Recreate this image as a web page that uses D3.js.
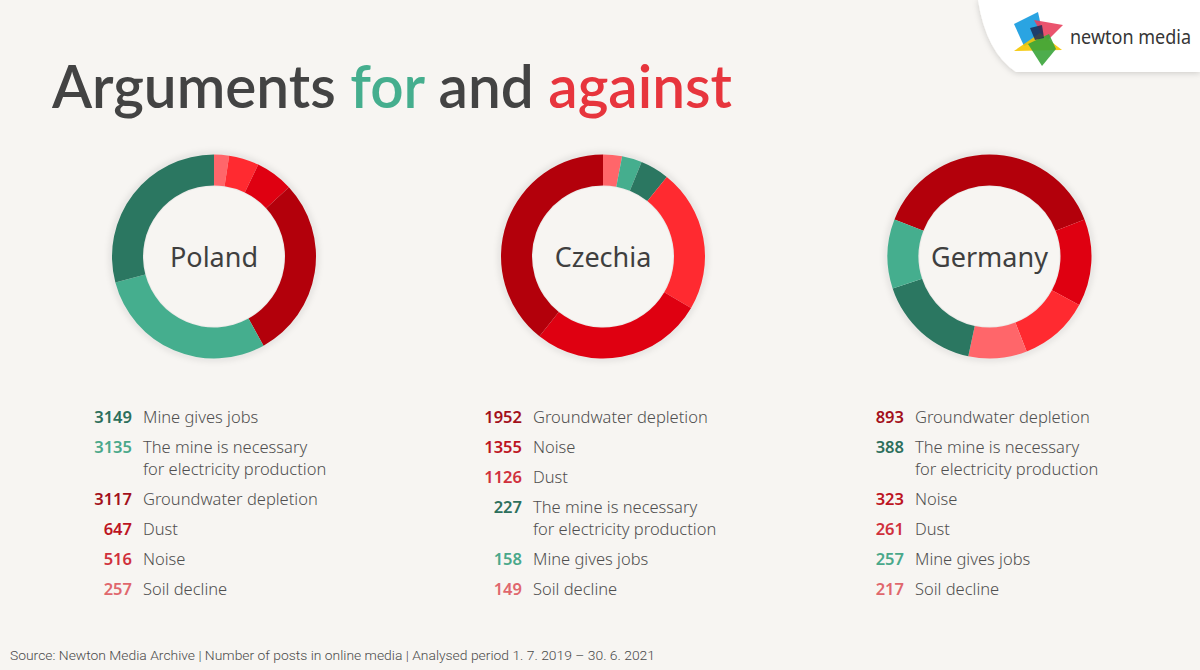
<!DOCTYPE html>
<html><head><meta charset="utf-8">
<script src="https://cdn.jsdelivr.net/npm/d3@7"></script>
<style>
html,body{margin:0;padding:0;background:#f7f5f2;}
svg{display:block;}
</style></head>
<body>
<svg id="chart" width="1200" height="670"></svg>
<script>
// ---------- DATA ----------
const countries = ["Poland", "Czechia", "Germany"];
const argumentSides = { // for / against
  "Mine gives jobs": "for",
  "The mine is necessary\nfor electricity production": "for",
  "Groundwater depletion": "against",
  "Dust": "against",
  "Noise": "against",
  "Soil decline": "against"
};
// slice order (clockwise)
const polandArgs = ["Soil decline", "Noise", "Dust", "Groundwater depletion", "The mine is necessary\nfor electricity production", "Mine gives jobs"];
const polandValues = [257, 516, 647, 3117, 3135, 3149];
const czechiaArgs = ["Soil decline", "Mine gives jobs", "The mine is necessary\nfor electricity production", "Dust", "Noise", "Groundwater depletion"];
const czechiaValues = [149, 158, 227, 1126, 1355, 1952];
const germanyArgs = ["Groundwater depletion", "Noise", "Dust", "Soil decline", "The mine is necessary\nfor electricity production", "Mine gives jobs"];
const germanyValues = [893, 323, 261, 217, 388, 257];
const centerFirstSlice = [false, false, true];

const againstColors = ["#b3000b", "#df0011", "#ff2a30", "#ff666a"]; // by rank
const forColors = ["#2b7761", "#45ae8e"];
const againstText = ["#a3101b", "#bd1422", "#d0303c", "#e0676d"];
const forText = ["#2d6f5c", "#4aa88a"];

const titleParts = [["Arguments ", "#434343"], ["for ", "#45ae8e"], ["and ", "#434343"], ["against", "#e7353d"]];
const sourceText = "Source: Newton Media Archive | Number of posts in online media | Analysed period 1. 7. 2019 – 30. 6. 2021";

// ---------- LAYOUT ----------
const W = 1200, H = 670;
const svg = d3.select("#chart");
const centersX = [214, 603, 989.5];
const centerY = 256.5;
const outerR = 102, innerR = 71;
const legendNumRight = [132, 522, 904];
const legendTop = 417, rowStep = 30, lineStep = 21.5;

svg.append("rect").attr("width", W).attr("height", H).attr("fill", "#f7f5f2");

const defs = svg.append("defs");
const f = defs.append("filter").attr("id", "shadow").attr("x", "-20%").attr("y", "-20%").attr("width", "140%").attr("height", "140%");
f.append("feDropShadow").attr("dx", 0).attr("dy", 1).attr("stdDeviation", 3).attr("flood-color", "#000").attr("flood-opacity", 0.18);
const fi = defs.append("filter").attr("id", "ishadow").attr("x", "-20%").attr("y", "-20%").attr("width", "140%").attr("height", "140%");
fi.append("feGaussianBlur").attr("stdDeviation", 3);

// logo panel
const logo = svg.append("g");
logo.append("path").attr("d", "M978,0 Q986,52 1016,72 L1200,72 L1200,0 Z").attr("fill", "#ffffff")
  .attr("filter", "url(#shadow)").attr("opacity", 1);
const ic = logo.append("g");
ic.append("polygon").attr("points", "1014,24 1038,12 1044,40 1024,46").attr("fill", "#1f9fe0").attr("opacity", 0.95);
ic.append("polygon").attr("points", "1034,20 1063,25 1046,42").attr("fill", "#e8415e").attr("opacity", 0.9);
ic.append("polygon").attr("points", "1014,51 1040,33 1062,50").attr("fill", "#f4c600").attr("opacity", 0.9);
ic.append("polygon").attr("points", "1028,44 1049,34 1056,49 1042,66").attr("fill", "#3aa43a").attr("opacity", 0.9);
ic.append("polygon").attr("points", "1030,28 1042,25 1044,38 1035,40").attr("fill", "#1c2b55").attr("opacity", 0.85);
logo.append("text").attr("x", 1070).attr("y", 44).attr("font-family", "Noto Sans, sans-serif")
  .attr("font-size", 19.5).attr("fill", "#363636").attr("textLength", 121).attr("lengthAdjust", "spacingAndGlyphs")
  .text("newton media");

// title
const title = svg.append("text").attr("x", 52).attr("y", 108)
  .attr("font-family", "Lato, sans-serif").attr("font-weight", 600).attr("font-size", 60)
  .attr("textLength", 680).attr("lengthAdjust", "spacingAndGlyphs");
titleParts.forEach(([t, c]) => title.append("tspan").attr("fill", c).text(t));

// charts
const allArgs = [polandArgs, czechiaArgs, germanyArgs];
const allValues = [polandValues, czechiaValues, germanyValues];

countries.forEach((country, ci) => {
  const args = allArgs[ci], vals = allValues[ci];
  const rows = args.map((a, i) => ({ arg: a, value: vals[i], side: argumentSides[a] }));
  // rank colors within side
  ["for", "against"].forEach(side => {
    const sorted = rows.filter(r => r.side === side).sort((a, b) => b.value - a.value);
    sorted.forEach((r, k) => {
      r.color = side === "for" ? forColors[k] : againstColors[k];
      r.textColor = side === "for" ? forText[k] : againstText[k];
    });
  });
  const total = d3.sum(vals);
  const offset = centerFirstSlice[ci] ? -Math.PI * vals[0] / total : 0;
  const pie = d3.pie().value(d => d.value).sort(null)
    .startAngle(offset).endAngle(offset + 2 * Math.PI);
  const arc = d3.arc().innerRadius(innerR).outerRadius(outerR);

  const g = svg.append("g").attr("transform", `translate(${centersX[ci]},${centerY})`);
  // shadow ring
  g.append("circle").attr("r", outerR).attr("fill", "none").attr("stroke", "#000")
    .attr("stroke-opacity", 0.12).attr("stroke-width", 4).attr("filter", "url(#ishadow)");
  g.append("circle").attr("r", innerR).attr("fill", "none").attr("stroke", "#000")
    .attr("stroke-opacity", 0.10).attr("stroke-width", 4).attr("filter", "url(#ishadow)");
  g.append("circle").attr("r", innerR - 1).attr("fill", "#f7f5f2");
  g.selectAll("path.slice").data(pie(rows)).join("path").attr("class", "slice")
    .attr("d", arc).attr("fill", d => d.data.color);
  g.append("text").attr("text-anchor", "middle").attr("y", 10)
    .attr("font-family", "Noto Sans, sans-serif").attr("font-weight", 400).attr("font-size", 27).attr("fill", "#3f3f3f")
    .text(country);

  // legend
  const legend = rows.slice().sort((a, b) => b.value - a.value);
  let y = legendTop;
  const lg = svg.append("g");
  legend.forEach(r => {
    lg.append("text").attr("x", legendNumRight[ci]).attr("y", y + 6).attr("text-anchor", "end")
      .attr("font-family", "Noto Sans, sans-serif").attr("font-weight", 600).attr("font-size", 16.5)
      .attr("fill", r.textColor).text(r.value);
    const lines = r.arg.split("\n");
    lines.forEach((ln, li) => {
      lg.append("text").attr("x", legendNumRight[ci] + 11).attr("y", y + 6 + li * lineStep)
        .attr("font-family", "Noto Sans, sans-serif").attr("font-weight", 300).attr("font-size", 16.5)
        .attr("fill", "#4f4f4f").text(ln);
    });
    y += rowStep + (lines.length - 1) * lineStep;
  });
});

// source
svg.append("text").attr("x", 10).attr("y", 660).attr("font-family", "Roboto, sans-serif")
  .attr("font-weight", 300).attr("font-size", 13.5).attr("fill", "#4a4a4a")
  .attr("textLength", 645).attr("lengthAdjust", "spacingAndGlyphs").text(sourceText);
</script>
</body></html>
